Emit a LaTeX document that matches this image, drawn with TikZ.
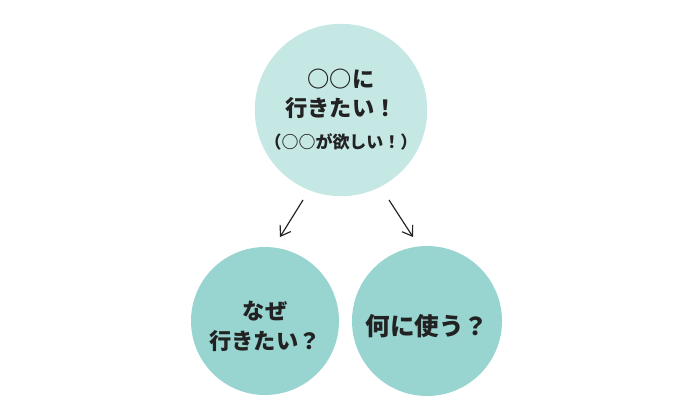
\documentclass[tikz,border=0pt]{standalone}
\usepackage{fontspec}
\newfontfamily\jpfont{Noto Sans CJK JP}
\usepackage{tikz}
\usetikzlibrary{positioning,arrows.meta}
\definecolor{palemint}{HTML}{C6E8E5}
\definecolor{mint}{HTML}{98D5D0}
\definecolor{ink}{HTML}{222222}

\begin{document}
\begin{tikzpicture}[x=0.03cm,y=-0.03cm,
    bubble/.style={circle,inner sep=0pt,align=center,text=ink,
      font=\jpfont\bfseries\fontsize{19}{24}\selectfont,
      execute at begin node={\rule{0pt}{#1}}},
    bubble/.default=24pt,
    pointer/.style={draw=ink,line width=1pt,-{Straight Barb[length=2.8mm,width=3.8mm]}}]
  \useasboundingbox (0,0) rectangle (680,417);
  % wish at the top
  \node[bubble=52pt,fill=palemint,minimum size=172*0.03cm] (wish) at (341,110) {
    ○○に\\行きたい！\\[4pt]
    {\fontsize{14.5}{15}\selectfont （○○が欲しい！）}};
  % two questions below
  \node[bubble=50pt,fill=mint,minimum size=148*0.03cm,
    font=\jpfont\bfseries\fontsize{19}{25.5}\selectfont] (why) at (265,321)
    {なぜ\\行きたい？};
  \node[bubble=27pt,fill=mint,minimum size=150*0.03cm,
    font=\jpfont\bfseries\fontsize{21}{25.5}\selectfont] (use) at (427,321)
    {何に使う？};
  \coordinate (wl) at (303,200);
  \coordinate (wr) at (389,200);
  \coordinate (yt) at (280,237);
  \coordinate (ut) at (413,237);
  \draw[pointer] (wl) -- (yt);
  \draw[pointer] (wr) -- (ut);
\end{tikzpicture}
\end{document}
